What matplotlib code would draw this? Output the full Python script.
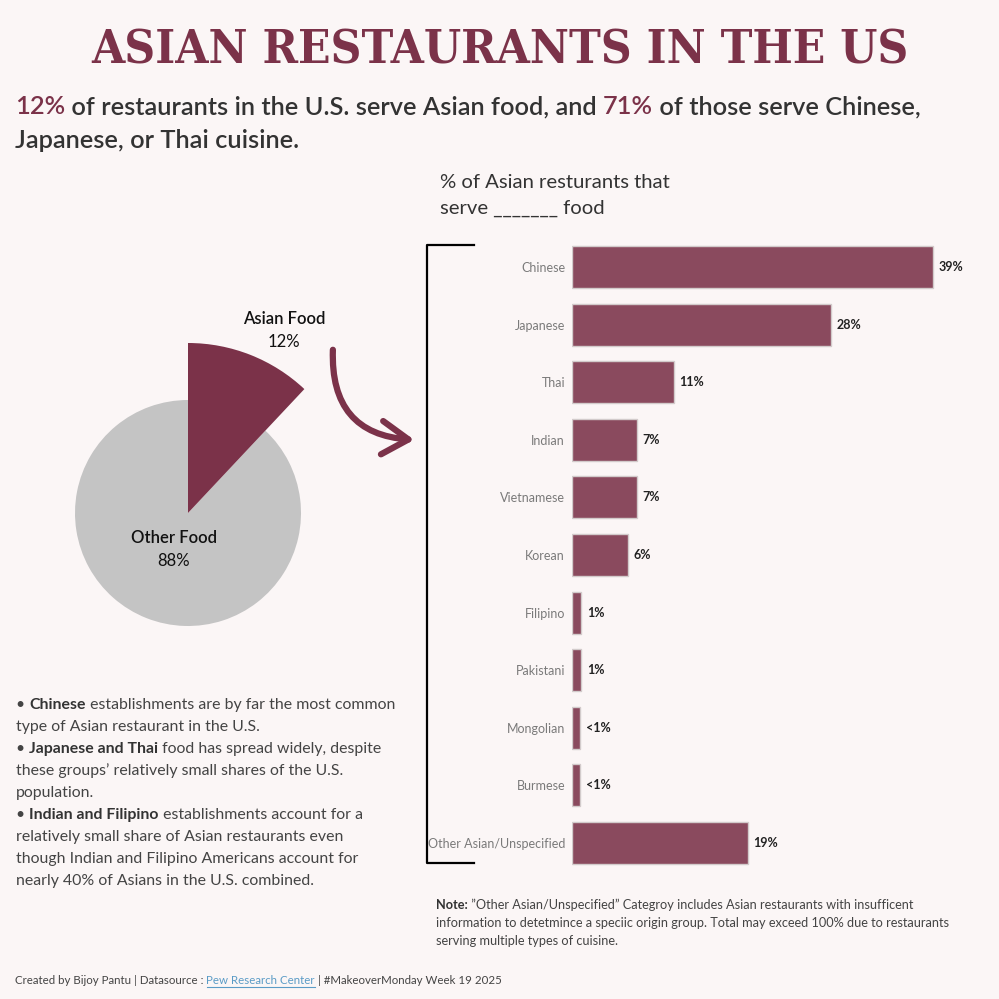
import numpy as np
import matplotlib
matplotlib.use("Agg")
import matplotlib.pyplot as plt
from matplotlib.patches import FancyArrowPatch
from matplotlib.lines import Line2D

# ---- data ----
pie_labels = ["Asian Food", "Other Food"]
pie_values = [12, 88]

cuisines = ["Chinese", "Japanese", "Thai", "Indian", "Vietnamese", "Korean",
            "Filipino", "Pakistani", "Mongolian", "Burmese", "Other Asian/Unspecified"]
shares = [39, 28, 11, 7, 7, 6, 1, 1, 0.9, 0.9, 19]
share_labels = ["39%", "28%", "11%", "7%", "7%", "6%", "1%", "1%", "<1%", "<1%", "19%"]

BG = "#FBF6F6"
MAROON = "#7B3249"
BAR = "#8A4A5E"
GREY_PIE = "#C4C4C4"
DARK = "#333333"
BODY = "#444444"
FONT = ["Lato", "DejaVu Sans"]

W = H = 999
fig = plt.figure(figsize=(9.99, 9.99), dpi=100, facecolor=BG)
renderer = fig.canvas.get_renderer()


def fx(px):
    return px / W


def fy(py):
    return 1 - py / H


def rich_line(x, y, parts, size, family=FONT):
    """draw text pieces one after another; x, y in pixels (y from top, baseline)"""
    out = []
    for txt, color, weight in parts:
        t = fig.text(fx(x), fy(y), txt, color=color, fontsize=size,
                     fontweight=weight, family=family, va="baseline", ha="left")
        bb = t.get_window_extent(renderer)
        out.append((t, bb))
        x += bb.width
    return out


# ---- title ----
title = fig.text(0.5, fy(63), "ASIAN RESTAURANTS IN THE US", ha="center", va="baseline",
                 fontsize=40, color=MAROON, family=["DejaVu Serif"], fontweight="bold",
                 fontstretch="condensed")
tw = title.get_window_extent(renderer).width
title.set_fontsize(40 * 816 / tw)

# ---- subtitle ----
rich_line(15, 114, [("12%", MAROON, "semibold"),
                    (" of restaurants in the U.S. serve Asian food, and ", DARK, "semibold"),
                    ("71%", MAROON, "semibold"),
                    (" of those serve Chinese,", DARK, "semibold")], 18.3)
rich_line(15, 148, [("Japanese, or Thai cuisine.", DARK, "semibold")], 18.3)

# ---- bar chart heading ----
fig.text(fx(440), fy(188), "% of Asian resturants that", fontsize=14.6, color=DARK,
         family=FONT, va="baseline")
fig.text(fx(440), fy(214), "serve _______ food", fontsize=14.6, color=DARK,
         family=FONT, va="baseline")

# ---- pie ----
half = 180
axp = fig.add_axes([fx(188 - half), fy(513 + half), 2 * half / W, 2 * half / H])
axp.set_facecolor("none")
axp.pie(pie_values, colors=["none", GREY_PIE], startangle=90, counterclock=False,
        radius=113 / half, wedgeprops=dict(linewidth=0))
axp.pie(pie_values, colors=[MAROON, "none"], startangle=90, counterclock=False,
        radius=170 / half, wedgeprops=dict(linewidth=0))
axp.set_xlim(-1, 1)
axp.set_ylim(-1, 1)
axp.set_aspect("equal")
axp.axis("off")

fig.text(fx(284), fy(324), pie_labels[0], ha="center", va="baseline", fontsize=12,
         fontweight="semibold", color="#111111", family=FONT)
fig.text(fx(284), fy(347), f"{pie_values[0]}%", ha="center", va="baseline", fontsize=12,
         color="#111111", family=FONT)
fig.text(fx(174), fy(543), pie_labels[1], ha="center", va="baseline", fontsize=12,
         fontweight="semibold", color="#111111", family=FONT)
fig.text(fx(174), fy(566), f"{pie_values[1]}%", ha="center", va="baseline", fontsize=12,
         color="#111111", family=FONT)

# curved arrow
arrow = FancyArrowPatch((fx(333), fy(347)), (fx(417), fy(440)), transform=fig.transFigure,
                        connectionstyle="arc3,rad=0.5",
                        arrowstyle="->,head_length=0.95,head_width=0.6",
                        mutation_scale=20, color=MAROON, lw=4.5, capstyle="round",
                        joinstyle="round")
fig.add_artist(arrow)

# ---- bars ----
px_per_pct = 9.26
n = len(cuisines)
top_c, bot_c = 267, 843
step = (bot_c - top_c) / (n - 1)
ax_top = top_c - step / 2
ax_bot = bot_c + step / 2
xmax = 42
axb = fig.add_axes([fx(572), fy(ax_bot), xmax * px_per_pct / W, (ax_bot - ax_top) / H])
axb.set_facecolor("none")
ypos = np.arange(n)
axb.barh(ypos, shares, height=0.73, color=BAR, edgecolor="#D2CBCB", linewidth=1)
axb.set_xlim(0, xmax)
axb.set_ylim(n - 0.5, -0.5)
for s in axb.spines.values():
    s.set_visible(False)
axb.set_xticks([])
axb.set_yticks(ypos)
axb.set_yticklabels(cuisines, fontsize=9, color="#7A7A7A", family=FONT)
axb.tick_params(axis="y", length=0, pad=5)
for y, v, lab in zip(ypos, shares, share_labels):
    axb.annotate(lab, (v, y), xytext=(4, 0), textcoords="offset points", va="center",
                 ha="left", fontsize=9, fontweight="bold", color="#222222", family=FONT)

# bracket
fig.add_artist(Line2D([fx(474), fx(427), fx(427), fx(474)],
                      [fy(245), fy(245), fy(863), fy(863)], color="black", lw=1.6))

# ---- bullet text ----
bullets = [
    [("• ", BODY, "normal"), ("Chinese", DARK, "bold"), (" establishments are by far the most common", BODY, "normal")],
    [("type of Asian restaurant in the U.S.", BODY, "normal")],
    [("• ", BODY, "normal"), ("Japanese and Thai", DARK, "bold"), (" food has spread widely, despite", BODY, "normal")],
    [("these groups’ relatively small shares of the U.S.", BODY, "normal")],
    [("population.", BODY, "normal")],
    [("• ", BODY, "normal"), ("Indian and Filipino", DARK, "bold"), (" establishments account for a", BODY, "normal")],
    [("relatively small share of Asian restaurants even", BODY, "normal")],
    [("though Indian and Filipino Americans account for", BODY, "normal")],
    [("nearly 40% of Asians in the U.S. combined.", BODY, "normal")],
]
for i, parts in enumerate(bullets):
    rich_line(16, 709 + 22 * i, parts, 11.4)

# ---- note ----
note = [
    [("Note:", DARK, "bold"), (" ”Other Asian/Unspecified” Categroy includes Asian restaurants with insufficent", BODY, "normal")],
    [("information to detetmince a speciic origin group. Total may exceed 100% due to restaurants", BODY, "normal")],
    [("serving multiple types of cuisine.", BODY, "normal")],
]
for i, parts in enumerate(note):
    rich_line(436, 909 + 18 * i, parts, 9.2)

# ---- footer ----
foot = rich_line(15, 984, [("Created by Bijoy Pantu | Datasource : ", BODY, "normal"),
                           ("Pew Research Center", "#5A9BC6", "normal"),
                           (" | #MakeoverMonday Week 19 2025", BODY, "normal")], 8.25)
bb = foot[1][1]
fig.add_artist(Line2D([bb.x0 / W, bb.x1 / W], [fy(986.5), fy(986.5)], color="#5A9BC6", lw=0.8))

fig.savefig("out.png", dpi=100, facecolor=BG)
